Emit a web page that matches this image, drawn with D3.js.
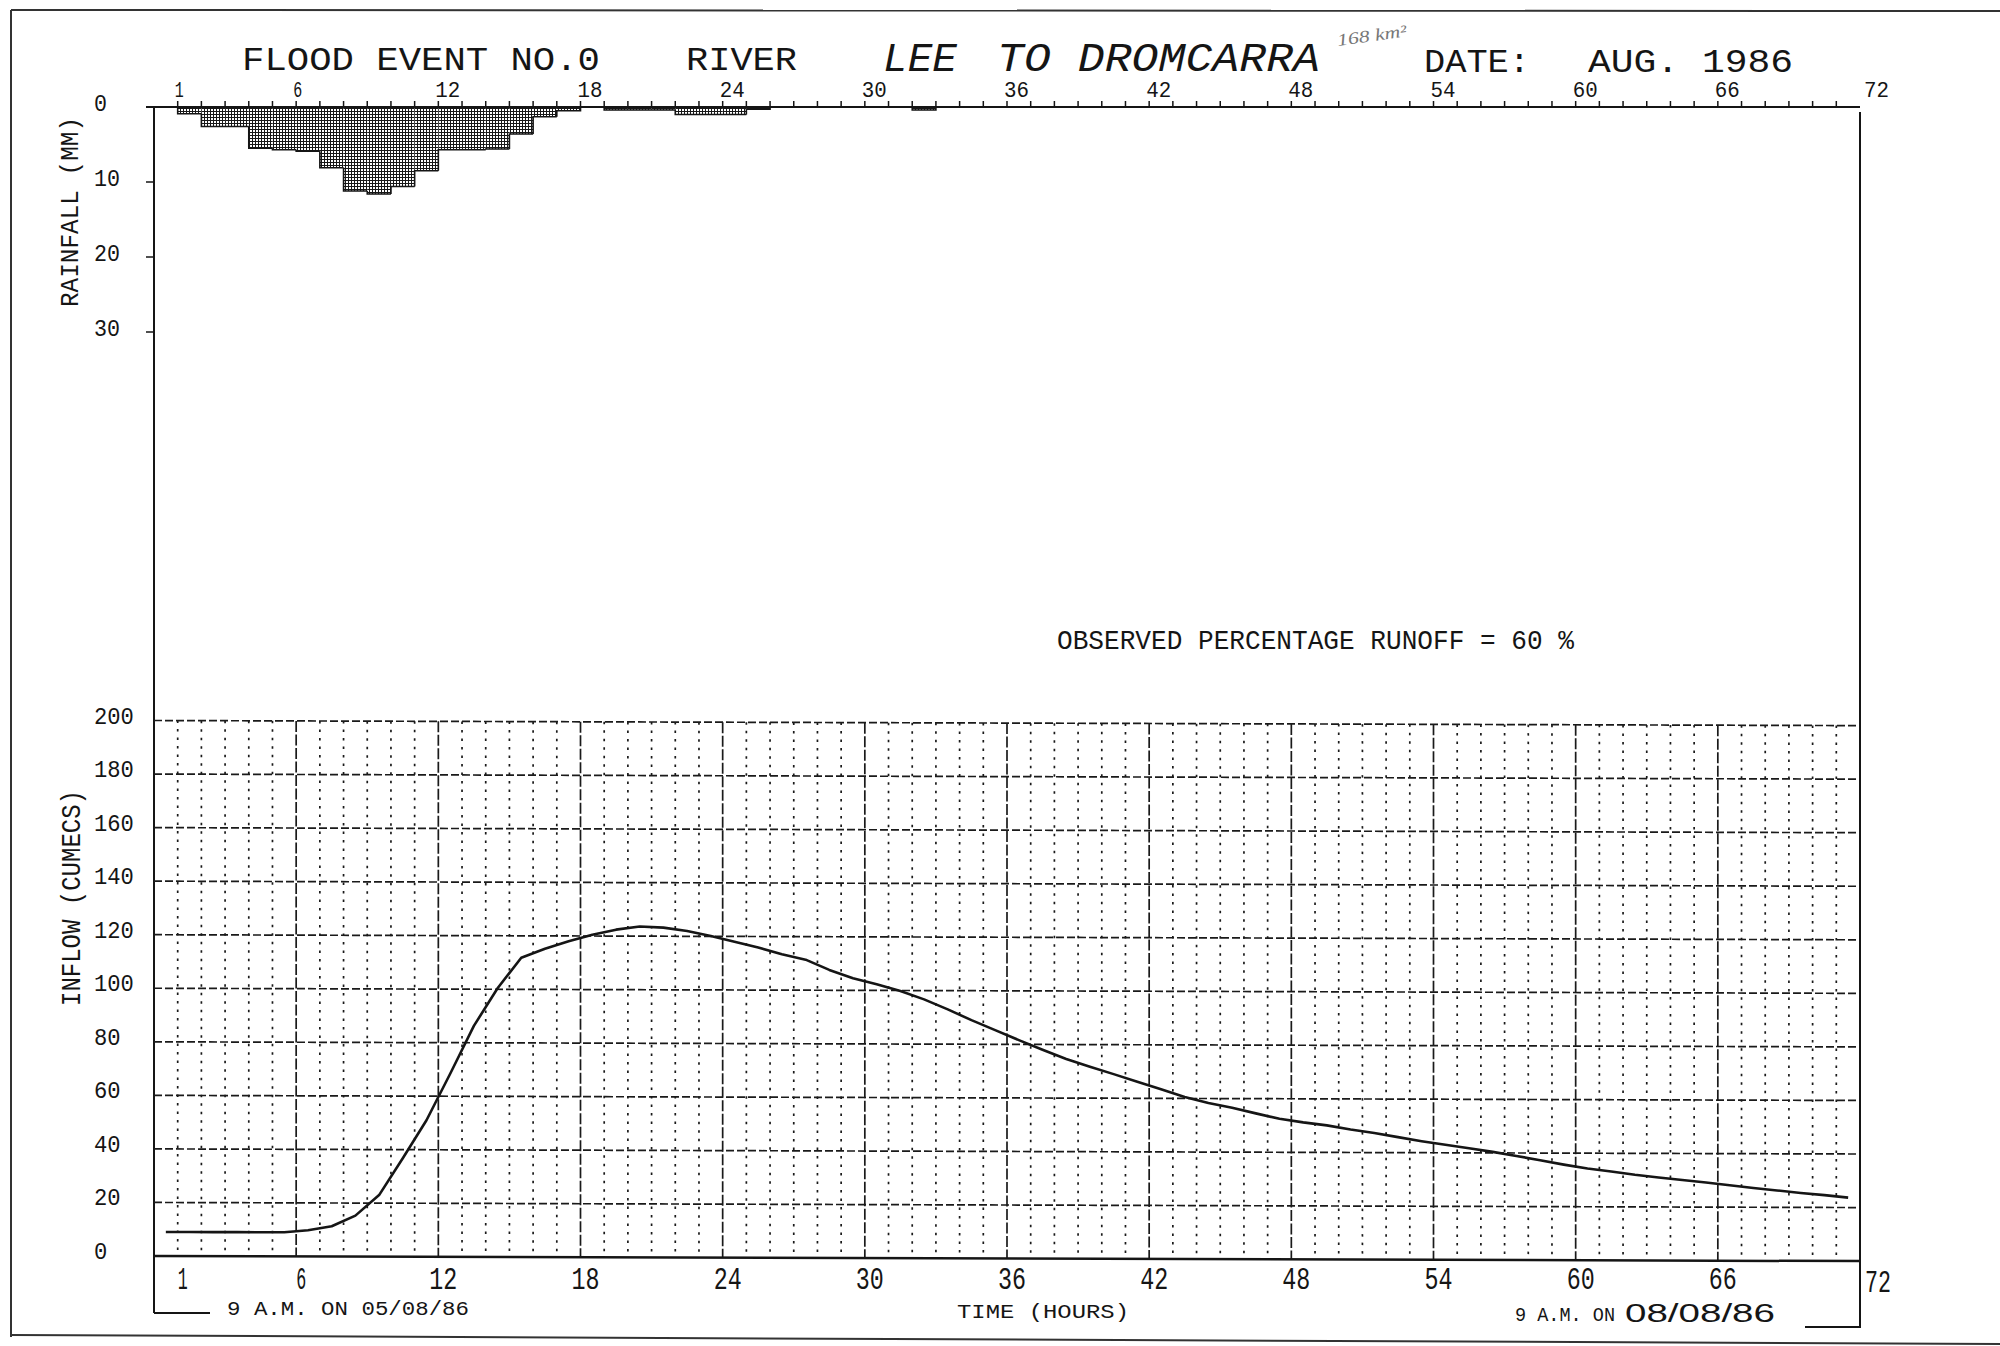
<!DOCTYPE html>
<html><head><meta charset="utf-8">
<script src="https://cdn.jsdelivr.net/npm/d3@7"></script>
<style>html,body{margin:0;padding:0;background:#fff;}svg{display:block}</style>
</head><body>
<script>
// ---------------- DATA ----------------
// Hourly rainfall (mm), each bar covers [start, start+1] hours
const rainStartHour = [1,2,3,4,5,6,7,8,9,10,11,12,13,14,15,16,17,19,20,21,22,23,24,25,32];
const rainfallMM    = [0.9,2.6,2.6,5.5,5.7,5.9,8.1,11.2,11.6,10.6,8.5,5.7,5.7,5.6,3.6,1.3,0.5,0.4,0.4,0.4,1.0,1.0,1.0,0.3,0.4];

// Inflow hydrograph (cumecs)
const flowHour = [0.5,1.5,2.5,3.5,4.5,5.5,6.5,7.5,8.5,9.5,10.5,11.5,12.5,13.5,14.5,15.5,16.5,17.5,18.5,19.5,
  20.5,21.5,22.5,23.5,24.5,25.5,26.5,27.5,28.5,29.5,30.5,31.5,32.5,33.5,34.5,35.5,36.5,37.5,38.5,39.5,
  40.5,41.5,42.5,43.5,44.5,45.5,46.5,47.5,48.5,49.5,50.5,51.5,52.5,53.5,54.5,55.5,56.5,57.5,58.5,59.5,
  60.5,61.5,62.5,63.5,64.5,65.5,66.5,67.5,68.5,69.5,70.5,71.5];
const inflowCumecs = [9,9,9,9,9,9,9.8,11.3,15.3,23,36.8,51,68.4,86.3,100.4,111.8,115.2,118,120.5,122.4,
  123.6,123.2,122,120.1,118,115.9,113.4,111.4,107.6,104.5,102.3,99.8,96.7,93,89,85.3,81.6,78,74.6,71.7,
  69,66.2,63.4,60.5,58.3,56.6,54.5,52.5,51.2,50.1,48.6,47.3,45.8,44.3,43,41.7,40.4,38.9,37.3,35.7,
  34.3,33.2,32,31,30.1,29.2,28.2,27.2,26.3,25.4,24.6,23.7];

const hourTickLabels = [1,6,12,18,24,30,36,42,48,54,60,66,72];
const rainTicks = [0,10,20,30];
const flowTicks = [0,20,40,60,80,100,120,140,160,180,200];
const majorHours = [6,12,18,24,30,36,42,48,54,60,66];

// ---------------- SETUP ----------------
const W = 2000, H = 1346;
const FONT = "'Liberation Mono','DejaVu Sans Mono',monospace";
const INK = '#151515';

const svg = d3.select('body').append('svg').attr('width', W).attr('height', H);
svg.append('rect').attr('width', W).attr('height', H).attr('fill', '#fff');

const x = d3.scaleLinear().domain([0, 72]).range([154, 1860]);
const yR = d3.scaleLinear().domain([0, 30]).range([107, 332]);
const yF = d3.scaleLinear().domain([0, 200]).range([1256, 720.5]);

function label(parent, str, o) {
  const t = parent.append('text').text(str)
    .attr('x', o.x).attr('y', o.y)
    .attr('font-family', o.family || FONT)
    .attr('font-size', o.size)
    .attr('fill', o.fill || INK)
    .attr('text-anchor', o.anchor || 'start');
  if (o.len) t.attr('textLength', o.len).attr('lengthAdjust', 'spacingAndGlyphs');
  if (o.italic) t.attr('font-style', 'italic');
  if (o.weight) t.attr('font-weight', o.weight);
  if (o.rotate) t.attr('transform', `rotate(${o.rotate},${o.x},${o.y})`);
  return t;
}

// hatch pattern for rainfall bars
const defs = svg.append('defs');
const pat = defs.append('pattern').attr('id', 'hatch').attr('patternUnits', 'userSpaceOnUse')
  .attr('width', 3).attr('height', 3);
pat.append('rect').attr('width', 3).attr('height', 3).attr('fill', '#fff');
pat.append('path').attr('d', 'M0,0.5H3M0.5,0V3').attr('stroke', '#181818').attr('stroke-width', 1);

// ---------------- PAGE FRAME (scan edges) ----------------
const frame = svg.append('g').attr('stroke', '#333').attr('stroke-width', 2).attr('fill', 'none');
frame.append('line').attr('x1', 11).attr('y1', 10).attr('x2', 2000).attr('y2', 11);
frame.append('line').attr('x1', 11).attr('y1', 10).attr('x2', 11).attr('y2', 1337);
frame.append('line').attr('x1', 11).attr('y1', 1335).attr('x2', 2000).attr('y2', 1344);

// ---------------- TITLE ----------------
label(svg, 'FLOOD EVENT NO.0', {x: 242, y: 70, size: 34, len: 358});
label(svg, 'RIVER', {x: 686, y: 70, size: 34, len: 111});
label(svg, 'LEE', {x: 883, y: 71, size: 41, len: 74, italic: true});
label(svg, 'TO DROMCARRA', {x: 997, y: 71, size: 41, len: 323, italic: true});
label(svg, '168 km²', {x: 1338, y: 46, size: 17, len: 70, fill: '#777', italic: true,
  family: "'Liberation Serif',serif", rotate: -8});
label(svg, 'DATE:', {x: 1424, y: 72, size: 34, len: 106});
label(svg, 'AUG. 1986', {x: 1588, y: 72, size: 34, len: 205});

// ---------------- UPPER PANEL: RAINFALL ----------------
const gTop = svg.append('g');
const rain = rainStartHour.map((h, i) => ({h, v: rainfallMM[i]}));

gTop.selectAll('rect.rain').data(rain).join('rect').attr('class', 'rain')
  .attr('x', d => x(d.h)).attr('width', d => x(d.h + 1) - x(d.h))
  .attr('y', yR(0)).attr('height', d => yR(d.v) - yR(0))
  .attr('fill', 'url(#hatch)');

// outline of histogram envelope
let outline = '';
rain.forEach((d, i) => {
  const prev = (i > 0 && rain[i - 1].h + 1 === d.h) ? rain[i - 1].v : 0;
  const next = (i < rain.length - 1 && rain[i + 1].h === d.h + 1) ? rain[i + 1].v : null;
  outline += `M${x(d.h)},${yR(prev)}V${yR(d.v)}H${x(d.h + 1)}`;
  if (next === null) outline += `V${yR(0)}`;
});
gTop.append('path').attr('d', outline).attr('fill', 'none').attr('stroke', INK).attr('stroke-width', 1.6);

// top axis line and ticks
gTop.append('line').attr('x1', 146).attr('x2', x(72)).attr('y1', yR(0)).attr('y2', yR(0))
  .attr('stroke', INK).attr('stroke-width', 2);
gTop.selectAll('line.ttick').data(d3.range(1, 72)).join('line').attr('class', 'ttick')
  .attr('x1', d => x(d)).attr('x2', d => x(d)).attr('y1', yR(0)).attr('y2', yR(0) - 6)
  .attr('stroke', INK).attr('stroke-width', 1.5);
hourTickLabels.forEach(h => {
  const s = String(h);
  if (h === 72) label(gTop, s, {x: x(h) + 4, y: 97, size: 22, len: 25});
  else label(gTop, s, {x: x(h) - 3, y: 97, size: 22, len: s.length === 1 ? 9 : 25});
});

// rainfall axis ticks and labels
rainTicks.forEach(v => {
  if (v > 0) gTop.append('line').attr('x1', x(0) - 8).attr('x2', x(0)).attr('y1', yR(v)).attr('y2', yR(v))
    .attr('stroke', INK).attr('stroke-width', 1.5);
  const s = String(v);
  label(gTop, s, {x: 94, y: yR(v) + 3.5, size: 23, len: s.length * 13});
});
label(svg, 'RAINFALL (MM)', {x: 78, y: 212, size: 26, len: 190, anchor: 'middle', rotate: -90});

// left axis full height
svg.append('line').attr('x1', x(0)).attr('x2', x(0)).attr('y1', yR(0)).attr('y2', 1313)
  .attr('stroke', INK).attr('stroke-width', 2);

// annotation
label(svg, 'OBSERVED PERCENTAGE RUNOFF = 60 %', {x: 1057, y: 649, size: 27, len: 517});

// ---------------- LOWER PANEL: INFLOW ----------------
const k = 0.003; // slight scan skew
const gLow = svg.append('g').attr('transform', `matrix(1,${k},0,1,0,${-k * x(0)})`);

// minor vertical dotted lines each hour
const minorHours = d3.range(1, 72).filter(h => h % 6 !== 0);
gLow.selectAll('line.minor').data(minorHours).join('line').attr('class', 'minor')
  .attr('x1', d => x(d)).attr('x2', d => x(d)).attr('y1', yF(200)).attr('y2', yF(0))
  .attr('stroke', '#1a1a1a').attr('stroke-width', 1.7).attr('stroke-dasharray', '2.5,6');
// major vertical lines
gLow.selectAll('line.major').data(majorHours).join('line').attr('class', 'major')
  .attr('x1', d => x(d)).attr('x2', d => x(d)).attr('y1', yF(200)).attr('y2', yF(0))
  .attr('stroke', '#1a1a1a').attr('stroke-width', 1.7).attr('stroke-dasharray', '11,2.5');
// horizontal dashed lines
gLow.selectAll('line.hgrid').data(flowTicks.filter(v => v > 0)).join('line').attr('class', 'hgrid')
  .attr('x1', x(0)).attr('x2', x(72)).attr('y1', d => yF(d)).attr('y2', d => yF(d))
  .attr('stroke', '#1a1a1a').attr('stroke-width', 1.7).attr('stroke-dasharray', '8,3');
// zero axis
gLow.append('line').attr('x1', x(0)).attr('x2', x(72)).attr('y1', yF(0)).attr('y2', yF(0))
  .attr('stroke', INK).attr('stroke-width', 2.5);
// right boundary with bottom-right bracket
gLow.append('path').attr('d', `M${x(72)},${yR(0)}V1322H1805`).attr('fill', 'none')
  .attr('stroke', INK).attr('stroke-width', 2);
// bottom-left bracket
svg.append('path').attr('d', `M${x(0)},1313H210`).attr('fill', 'none').attr('stroke', INK).attr('stroke-width', 2);

// hydrograph
const flow = flowHour.map((t, i) => ({t, v: inflowCumecs[i]}));
gLow.append('path').datum(flow)
  .attr('d', d3.line().x(d => x(d.t)).y(d => yF(d.v)))
  .attr('fill', 'none').attr('stroke', INK).attr('stroke-width', 2.6).attr('stroke-linejoin', 'round');

// inflow axis labels
flowTicks.forEach(v => {
  const s = String(v);
  label(svg, s, {x: 94, y: yF(v) + 3, size: 24, len: s.length * 13.3});
});
label(svg, 'INFLOW (CUMECS)', {x: 80, y: 898, size: 27, len: 216, anchor: 'middle', rotate: -90});

// bottom hour labels
hourTickLabels.forEach(h => {
  const s = String(h);
  if (h === 72) label(svg, s, {x: x(h) + 5, y: 1292, size: 32, len: 26});
  else label(svg, s, {x: x(h) + 5, y: 1289, size: 32, len: s.length === 1 ? 10 : 28, anchor: 'middle'});
});

label(svg, '9 A.M. ON 05/08/86', {x: 227, y: 1315, size: 20, len: 242});
label(svg, 'TIME (HOURS)', {x: 957, y: 1318, size: 21, len: 172});
label(svg, '9 A.M. ON', {x: 1515, y: 1321, size: 20, len: 100});
label(svg, '08/08/86', {x: 1625, y: 1322, size: 25, len: 150, family: "'Liberation Sans',sans-serif"});
</script>
</body></html>
